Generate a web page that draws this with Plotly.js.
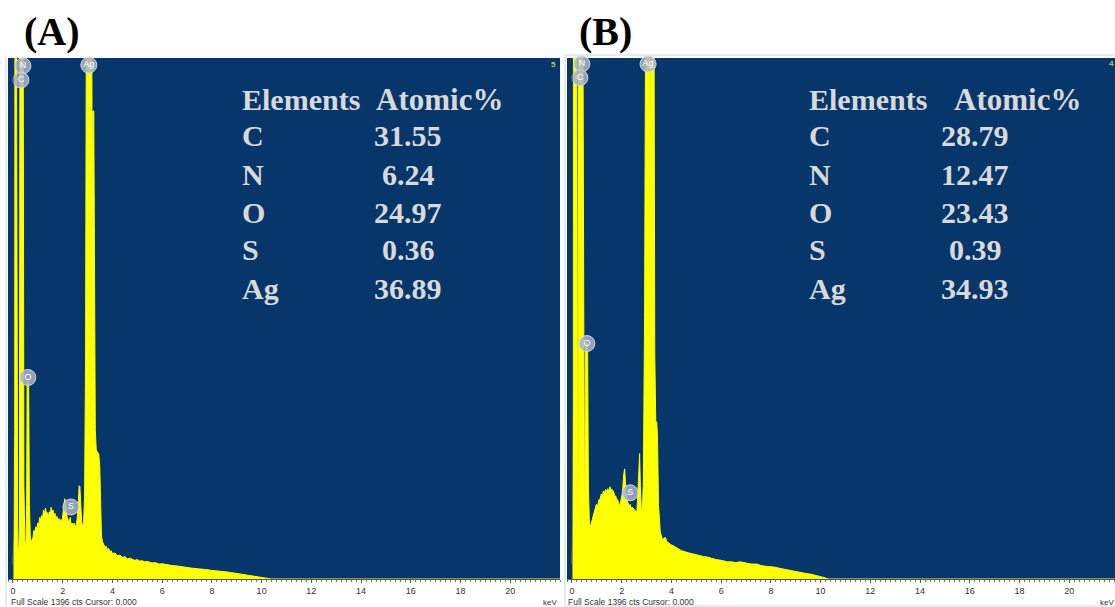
<!DOCTYPE html>
<html>
<head>
<meta charset="utf-8">
<script src="https://cdn.plot.ly/plotly-3.0.1.min.js"></script>
<style>
html,body{margin:0;padding:0;background:#fff;}
#chart{width:1115px;height:607px;}
</style>
</head>
<body>
<div id="chart"></div>
<script>
// ---------- DATA ----------
const energyA = [0.00,0.04,0.07,0.08,0.14,0.16,0.19,0.23,0.26,0.28,0.41,0.44,0.48,0.52,0.55,0.57,0.63,0.66,0.70,0.75,
0.80,0.84,0.88,0.92,0.96,1.00,1.04,1.08,1.12,1.15,1.19,1.23,1.27,1.31,1.35,1.39,1.42,1.46,1.50,1.53,
1.57,1.61,1.65,1.69,1.73,1.77,1.81,1.85,1.89,1.93,1.97,2.01,2.05,2.08,2.11,2.14,2.18,2.22,2.26,2.30,
2.34,2.38,2.42,2.46,2.50,2.54,2.58,2.62,2.66,2.69,2.72,2.76,2.80,2.84,2.88,2.92,2.95,3.17,3.19,3.21,
3.25,3.28,3.31,3.35,3.40,3.45,3.49,3.52,3.56,3.60,3.65,3.70,3.75,3.80,3.85,3.90,3.95,4.00,4.10,4.20,
4.30,4.40,4.50,4.60,4.70,4.80,4.90,5.00,5.10,5.20,5.30,5.40,5.50,5.60,5.70,5.80,5.90,6.00,6.20,6.40,
6.60,6.80,7.00,7.20,7.40,7.60,7.80,8.00,8.20,8.40,8.60,8.80,9.00,9.20,9.40,9.60,9.80,10.00,10.20,10.40,22.00];
const countsA = [40,120,400,1500,1500,300,90,70,150,1500,1500,250,100,95,200,530,530,200,110,99,
110,130,126,140,135,150,148,165,155,170,162,185,175,190,172,178,165,180,170,192,
178,185,168,176,160,168,155,162,150,160,150,175,205,215,210,180,165,158,150,165,
145,150,140,150,138,145,160,190,250,248,200,155,140,150,220,600,1500,1500,900,1254,
1254,700,400,345,340,335,300,180,115,100,92,85,88,78,82,72,76,68,70,62,
64,58,60,54,56,52,50,52,48,49,46,47,45,43,44,42,40,41,38,36,
35,32,31,29,28,26,25,23,22,20,19,17,15,13,11,9,6,4,2,0,0];

const energyB = [0.00,0.03,0.05,0.06,0.19,0.21,0.23,0.25,0.27,0.44,0.47,0.50,0.52,0.54,0.63,0.66,0.70,0.73,0.78,0.83,
0.88,0.93,0.98,1.03,1.08,1.13,1.18,1.22,1.26,1.30,1.35,1.40,1.44,1.48,1.53,1.57,1.62,1.67,1.71,1.76,
1.80,1.85,1.90,1.94,1.98,2.03,2.08,2.12,2.16,2.20,2.25,2.30,2.34,2.38,2.43,2.47,2.52,2.57,2.61,2.65,
2.69,2.72,2.75,2.79,2.83,2.87,2.92,2.96,3.13,3.15,3.17,3.30,3.33,3.37,3.41,3.44,3.48,3.55,3.62,3.68,
3.75,3.82,3.90,3.98,4.08,4.18,4.30,4.40,4.49,4.60,4.70,4.80,4.89,5.00,5.10,5.20,5.30,5.43,5.60,5.80,
6.00,6.10,6.25,6.40,6.60,6.77,7.00,7.20,7.45,7.60,7.80,8.00,8.12,8.40,8.60,8.90,9.20,9.40,9.60,9.80,
10.00,10.20,10.30,22.00];
const countsB = [40,150,500,1500,1500,300,120,300,1500,1500,250,130,300,631,631,250,150,140,150,165,
175,188,200,195,212,215,228,220,236,228,240,234,242,235,247,238,240,234,225,222,
215,210,200,196,215,230,280,295,250,215,205,196,200,190,192,188,185,182,180,230,
330,336,250,185,180,260,700,1500,1500,800,1500,1500,600,421,421,380,200,126,110,107,
112,100,95,92,89,84,80,76,75,72,70,68,67,64,62,61,60,59,55,52,
50,48,46,46,44,46,42,40,40,36,34,33,32,28,25,21,18,15,13,10,
8,3,0,0];

const peakLabels = ["N","C","Ag","O","S"];
const labelEnergyA = [0.40,0.32,3.05,0.60,2.33];
const labelCountsA = [1375,1337,1377,540,193];
const labelEnergyB = [0.40,0.32,3.06,0.60,2.34];
const labelCountsB = [1380,1343,1380,631,231];

const elements = ["C","N","O","S","Ag"];
const atomicA = ["31.55","6.24","24.97","0.36","36.89"];
const atomicB = ["28.79","12.47","23.43","0.39","34.93"];
const fullScale = 1396;
const xTicks = [0,2,4,6,8,10,12,14,16,18,20];

// ---------- STYLE ----------
const W = 1115, H = 607;
const BLUE = '#06366a', YEL = '#ffff00';
const px = v => v / W, py = v => 1 - v / H;

function specTrace(x, y, xa, ya) {
  return {x, y, xaxis: xa, yaxis: ya, type: 'scatter', mode: 'lines',
    line: {color: YEL, width: 1, shape: 'linear'}, fill: 'tozeroy', fillcolor: YEL,
    hoverinfo: 'skip', showlegend: false};
}
function labelTrace(x, y, xa, ya) {
  return {x, y, xaxis: xa, yaxis: ya, type: 'scatter', mode: 'markers+text',
    text: peakLabels, textposition: 'middle center',
    textfont: {family: 'Liberation Sans, Arial, sans-serif', size: 9, color: '#ffffff'},
    marker: {size: 16, color: 'rgba(170,180,200,0.85)', line: {color: 'rgba(215,220,232,0.9)', width: 1}},
    cliponaxis: false, hoverinfo: 'skip', showlegend: false};
}

const data = [
  specTrace(energyA, countsA, 'x', 'y'),
  specTrace(energyB, countsB, 'x2', 'y2'),
  labelTrace(labelEnergyA, labelCountsA, 'x', 'y'),
  labelTrace(labelEnergyB, labelCountsB, 'x2', 'y2')
];

const yDom = [py(579), py(58)];
function xAxis(dom, range, anchor) {
  return {domain: dom, range: range, anchor: anchor, tickvals: xTicks,
    ticks: 'outside', ticklen: 3, tickwidth: 1, tickcolor: '#555',
    minor: {dtick: 0.2, ticks: 'outside', ticklen: 2, tickcolor: '#777', showgrid: false},
    showline: true, linecolor: '#555', linewidth: 1, showgrid: false, zeroline: false,
    tickfont: {family: 'Liberation Sans, Arial, sans-serif', size: 9, color: '#333'},
    fixedrange: true};
}
function yAxis(anchor) {
  return {domain: yDom, range: [0, fullScale], anchor: anchor, visible: false,
    showgrid: false, zeroline: false, fixedrange: true};
}

const serifBold = {family: 'Liberation Serif, Times New Roman, serif', size: 30, color: '#d9d9d9'};
const headBold = {family: 'Liberation Serif, Times New Roman, serif', size: 31, color: '#d9d9d9'};
const ann = [];
function txt(text, x, y, font, xanchor) {
  ann.push({text, x: px(x), y: py(y), xref: 'paper', yref: 'paper', showarrow: false,
    xanchor: xanchor || 'left', yanchor: 'middle', font});
}
const titleFont = {family: 'Liberation Serif, Times New Roman, serif', size: 40, color: '#000'};
txt('<b>(A)</b>', 22, 31, titleFont);
txt('<b>(B)</b>', 577, 31, titleFont);

const rowY = [136, 174, 212, 249, 288];
txt('<b>Elements</b>', 240, 100, serifBold);
txt('<b>Atomic%</b>', 374, 100, headBold);
txt('<b>Elements</b>', 807, 100, serifBold);
txt('<b>Atomic%</b>', 952, 100, headBold);
elements.forEach((e, i) => {
  txt('<b>' + e + '</b>', 240, rowY[i], serifBold);
  txt('<b>' + e + '</b>', 807, rowY[i], serifBold);
  txt('<b>' + atomicA[i] + '</b>', 408, rowY[i], serifBold, 'center');
  txt('<b>' + atomicB[i] + '</b>', 975, rowY[i], serifBold, 'center');
});

const small = {family: 'Liberation Sans, Arial, sans-serif', size: 8.5, color: '#333'};
txt('Full Scale ' + fullScale + ' cts Cursor: 0.000', 9, 602, small);
txt('Full Scale ' + fullScale + ' cts Cursor: 0.000', 566, 602, small);
txt('keV', 541, 602, {family: 'Liberation Sans, Arial, sans-serif', size: 8, color: '#333'});
txt('keV', 1098, 602, {family: 'Liberation Sans, Arial, sans-serif', size: 8, color: '#333'});
txt('<b>5</b>', 549, 65, {family: 'Liberation Sans, Arial, sans-serif', size: 8, color: '#b8cc30'});
txt('<b>4</b>', 1107, 64, {family: 'Liberation Sans, Arial, sans-serif', size: 8, color: '#b8cc30'});

const shapes = [
  {type: 'line', xref: 'paper', yref: 'paper', x0: px(6), x1: px(6), y0: py(606), y1: py(57),
   line: {color: '#c9d8ea', width: 1}, layer: 'below'},
  {type: 'rect', xref: 'paper', yref: 'paper', x0: px(565), x1: px(1116), y0: py(606), y1: py(55),
   line: {color: '#c9d8ea', width: 1}, fillcolor: 'rgba(0,0,0,0)', layer: 'below'},
  {type: 'line', xref: 'x', yref: 'y', x0: 0, x1: 0, y0: 0, y1: fullScale, line: {color: '#2a3550', width: 1}},
  {type: 'line', xref: 'x2', yref: 'y2', x0: 0, x1: 0, y0: 0, y1: fullScale, line: {color: '#2a3550', width: 1}}
];

const layout = {
  width: W, height: H, margin: {l: 0, r: 0, t: 0, b: 0, pad: 0},
  paper_bgcolor: '#ffffff', plot_bgcolor: BLUE, showlegend: false,
  xaxis: xAxis([px(8), px(560)], [-0.2, 22.0], 'y'),
  yaxis: yAxis('x'),
  xaxis2: xAxis([px(567), 1], [-0.2, 21.84], 'y2'),
  yaxis2: yAxis('x2'),
  annotations: ann, shapes: shapes
};

Plotly.newPlot('chart', data, layout, {displayModeBar: false, staticPlot: true});
</script>
</body>
</html>
